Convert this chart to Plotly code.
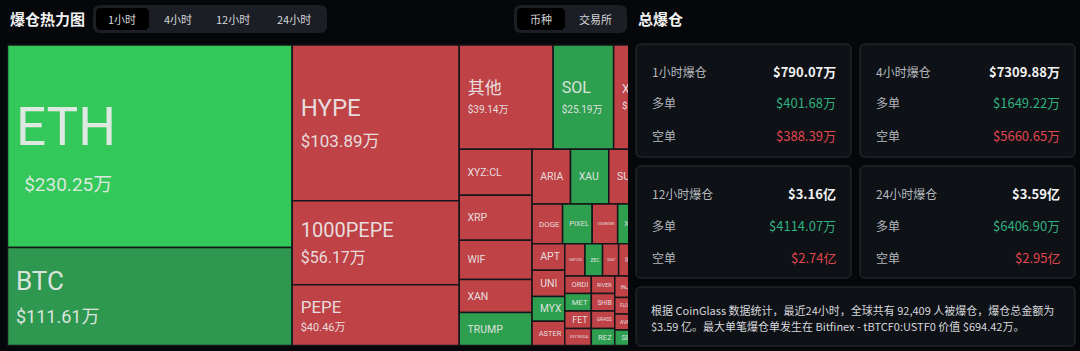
import plotly.graph_objects as go

W, H = 1080, 351

# ---------------- data (1小时 liquidation heatmap, 万 USD) ----------------
coins = ["ETH", "BTC", "HYPE", "1000PEPE", "PEPE", "其他", "SOL", "XPL",
         "XYZ:CL", "XRP", "WIF", "XAN", "TRUMP",
         "ARIA", "XAU", "SUI", "TAO",
         "DOGE", "PIXEL", "1000BONK", "XLM", "ADA",
         "APT", "UNI", "MYX", "ASTER",
         "FARTCOIN", "ZEC", "GOAT", "IP", "BNB", "AAVE",
         "ORDI", "MET", "FET", "XYZ:NVDA",
         "RIVER", "SHIB", "GRASS", "REZ",
         "INJ", "FIL", "LINK", "FLOKI", "AVAX", "SEI", "LTC", "WLD", "TIA", "OP", "ARB", "NEAR"]
values = [230.25, 111.61, 103.89, 56.17, 40.46, 39.14, 25.19, 21.60,
          13.40, 13.10, 11.40, 9.62, 9.58,
          8.42, 8.38, 7.00, 5.40,
          4.86, 4.70, 4.05, 3.90, 3.70,
          3.45, 3.43, 3.25, 3.17,
          2.60, 2.27, 2.07, 2.05, 2.00, 1.98,
          1.87, 1.86, 1.85, 1.80,
          1.65, 1.64, 1.62, 1.60,
          1.50, 1.45, 1.40, 1.35, 1.30, 1.25, 1.20, 1.15, 1.10, 1.05, 1.00, 0.34]
side = ["long", "long", "short", "short", "short", "short", "long", "short",
        "short", "short", "short", "short", "long",
        "short", "long", "short", "short",
        "short", "long", "short", "long", "short",
        "short", "short", "long", "short",
        "short", "long", "short", "short", "long", "short",
        "short", "long", "short", "short",
        "short", "short", "short", "long",
        "short", "short", "short", "short", "short", "long", "short", "short", "long", "short", "short", "short"]

periods = ["1小时爆仓", "4小时爆仓", "12小时爆仓", "24小时爆仓"]
totals = ["$790.07万", "$7309.88万", "$3.16亿", "$3.59亿"]
longs = ["$401.68万", "$1649.22万", "$4114.07万", "$6406.90万"]
shorts = ["$388.39万", "$5660.65万", "$2.74亿", "$2.95亿"]

tabs_time = ["1小时", "4小时", "12小时", "24小时"]
tabs_kind = ["币种", "交易所"]

summary = ["根据 CoinGlass 数据统计，最近24小时，全球共有 92,409 人被爆仓，爆仓总金额为",
           "$3.59 亿。最大单笔爆仓单发生在 Bitfinex - tBTCF0:USTF0 价值 $694.42万。"]

# ---------------- styles ----------------
BG = "#06070b"
RED = "#bf4246"
GREEN = "#2e9f4f"
special_color = {"ETH": "#34c85a", "BTC": "#2f9850"}
label_style = {  # (line base px, label px, value px, value indent nbsp)
    "ETH": (35, 53, 19, 5), "BTC": (25, 26, 18, 2), "HYPE": (24, 24, 17, 2),
    "1000PEPE": (20, 20, 16, 2), "PEPE": (14, 17, 11, 2), "其他": (15, 17, 10, 2),
    "SOL": (15, 16, 10, 2), "XPL": (12, 12, 10, 2),
}
# cells lying entirely beyond the container's clipped right edge
clipped = {"TAO", "ADA", "BNB", "AAVE", "FIL", "LINK", "LTC", "WLD", "TIA", "OP", "ARB", "NEAR"}


def ind(n, size=11):
    return f"<span style='font-size:{size}px'>" + "\u00a0" * n + "</span>"


colors, temps, fsz = [], [], []
for c, v, s in zip(coins, values, side):
    colors.append(special_color.get(c, GREEN if s == "long" else RED))
    if c in label_style:
        base, ls, vs, vi = label_style[c]
        temps.append(f"{ind(2)}<span style='font-size:{ls}px'>{c}</span><br>"
                     f"{ind(vi)}<span style='font-size:{vs}px'>${v:.2f}万</span>")
        fsz.append(base)
    elif c in clipped:
        temps.append("")
        fsz.append(10.5)
    else:
        temps.append("\u00a0\u00a0" + c)
        fsz.append(10.5)

fig = go.Figure(go.Treemap(
    labels=coins,
    parents=[""] * len(coins),
    values=values,
    sort=True,
    marker=dict(colors=colors, line=dict(color="#15161a", width=1.5),
                pad=dict(t=0, l=0, r=0, b=0)),
    tiling=dict(packing="squarify", squarifyratio=1.618034, pad=0),
    pathbar=dict(visible=False),
    texttemplate=temps,
    textposition="middle left",
    textfont=dict(family="Roboto, Noto Sans CJK SC", color="rgba(236,236,236,0.92)", size=fsz),
    hoverinfo="label+value",
    domain=dict(x=[7.5 / W, 665.5 / W], y=[1 - 345.5 / H, 1 - 45 / H]),
))

# ---------------- UI chrome ----------------
X = lambda x: x / W
Y = lambda y: 1 - y / H


def rrect(x0, y0, x1, y1, r, fill, line=None, lw=1, layer="above"):
    p = (f"M {X(x0+r)},{Y(y0)} L {X(x1-r)},{Y(y0)} Q {X(x1)},{Y(y0)} {X(x1)},{Y(y0+r)} "
         f"L {X(x1)},{Y(y1-r)} Q {X(x1)},{Y(y1)} {X(x1-r)},{Y(y1)} "
         f"L {X(x0+r)},{Y(y1)} Q {X(x0)},{Y(y1)} {X(x0)},{Y(y1-r)} "
         f"L {X(x0)},{Y(y0+r)} Q {X(x0)},{Y(y0)} {X(x0+r)},{Y(y0)} Z")
    return dict(type="path", path=p, xref="paper", yref="paper", fillcolor=fill,
                line=dict(color=line or fill, width=lw if line else 0), layer=layer)


shapes, ann = [], []
FONT = "Noto Sans CJK SC, Roboto"


def text(x, y, t, size=12, color="#e6e6e6", anchor="left", bold=False):
    if bold:
        t = f"<b>{t}</b>"
    ann.append(dict(x=X(x), y=Y(y), xref="paper", yref="paper", text=t, showarrow=False,
                    xanchor=anchor, yanchor="middle",
                    font=dict(family=FONT, size=size, color=color)))


# container clips the heatmap on its right side
shapes.append(dict(type="rect", xref="paper", yref="paper", x0=X(628), x1=X(700), y0=0, y1=Y(40),
                   line=dict(width=0), fillcolor=BG, layer="above"))

text(8, 19, "爆仓热力图", 15, "#f2f2f2", bold=True)
shapes.append(rrect(93, 5, 327, 33, 7, "#1b1e24"))
shapes.append(rrect(96, 8, 149, 30, 5, "#000000"))
for t, cx in zip(tabs_time, [122, 178, 233, 294]):
    text(cx, 19, t, 11, "#d4d6da", anchor="center")

shapes.append(rrect(514, 5, 627, 33, 7, "#1b1e24"))
shapes.append(rrect(517, 8, 565, 30, 5, "#000000"))
for t, cx in zip(tabs_kind, [541, 595]):
    text(cx, 19, t, 11, "#d4d6da", anchor="center")

text(636, 19, "总爆仓", 15, "#f2f2f2", bold=True)

CARD_FILL, CARD_LINE = "#0e1116", "#2a2e35"
LONGC, SHORTC = "#2fb07f", "#e0464e"
boxes = [(636, 44, 851, 157), (860, 44, 1075, 157), (636, 166, 851, 278), (860, 166, 1075, 278)]
for (x0, y0, x1, y1), p, tot, lo, sh in zip(boxes, periods, totals, longs, shorts):
    shapes.append(rrect(x0, y0, x1, y1, 5, CARD_FILL, CARD_LINE, 1))
    r1 = y0 + 27
    text(x0 + 14, r1, p, 12, "#b4b7bc")
    text(x1 - 13, r1, tot, 13, "#f2f2f2", anchor="right", bold=True)
    text(x0 + 14, r1 + 32, "多单", 12, "#b4b7bc")
    text(x1 - 13, r1 + 32, lo, 13, LONGC, anchor="right")
    text(x0 + 14, r1 + 64, "空单", 12, "#b4b7bc")
    text(x1 - 13, r1 + 64, sh, 13, SHORTC, anchor="right")

shapes.append(rrect(636, 287, 1075, 346, 5, CARD_FILL, CARD_LINE, 1))
text(649, 310, summary[0], 11, "#d6d8dc")
text(649, 326, summary[1], 11, "#d6d8dc")

fig.update_layout(
    width=W, height=H, margin=dict(l=0, r=0, t=0, b=0),
    paper_bgcolor=BG, plot_bgcolor=BG,
    shapes=shapes, annotations=ann, showlegend=False,
    font=dict(family=FONT),
)
fig.write_html("out.html")
